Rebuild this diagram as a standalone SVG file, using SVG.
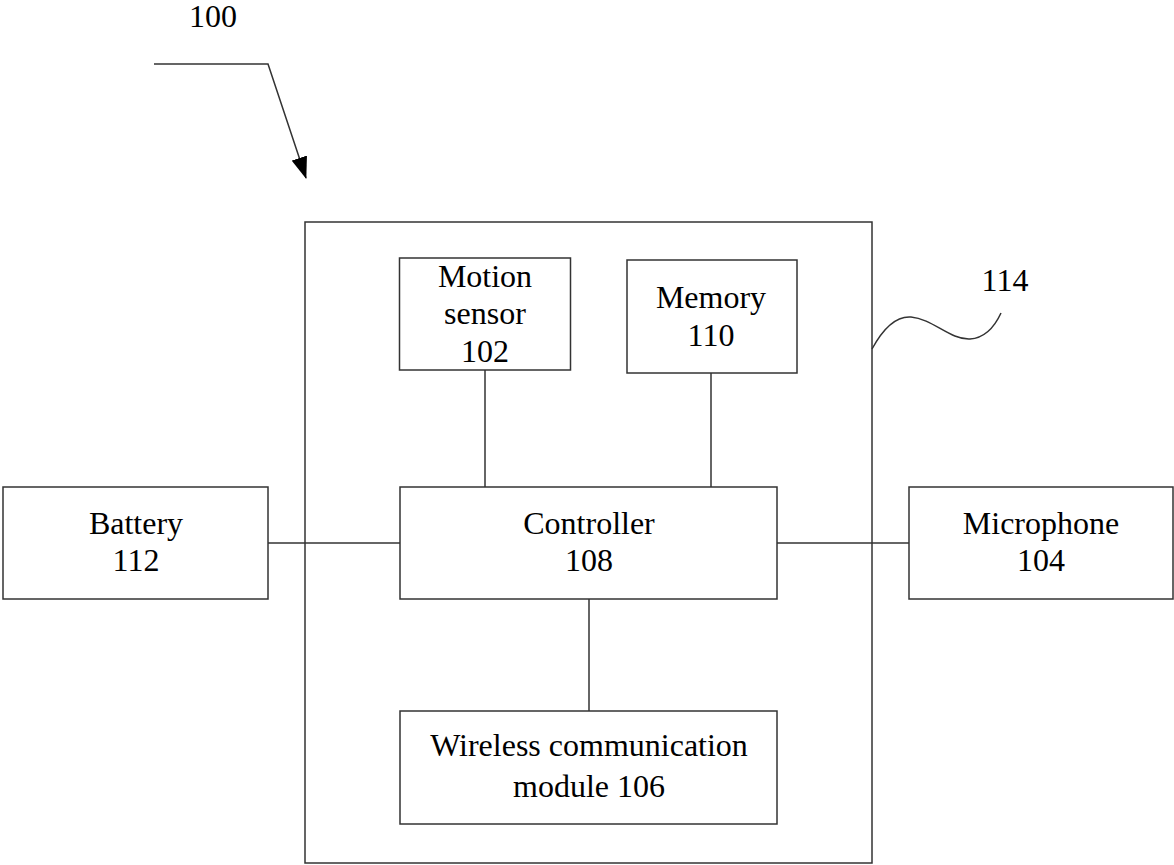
<svg xmlns="http://www.w3.org/2000/svg" width="1174" height="865" viewBox="0 0 1174 865">
<defs>
<style>
.box{fill:#fff;stroke:#333;stroke-width:1.5}
.ln{fill:none;stroke:#333;stroke-width:1.5}
text{font-family:"Liberation Serif","Times New Roman",serif;font-size:32px;fill:#000;text-anchor:middle}
</style>
<marker id="arr" markerWidth="22" markerHeight="16" refX="21" refY="8" orient="auto" markerUnits="userSpaceOnUse" viewBox="0 0 22 16">
<path d="M0,0 L22,8 L0,16 z" fill="#000"/>
</marker>
</defs>
<rect width="1174" height="865" fill="#fff"/>
<g id="label-100">
<text x="213" y="27">100</text>
<path class="ln" d="M154,64 L268,64 L306,178" stroke="#000" marker-end="url(#arr)"/>
</g>
<g id="device-114">
<rect class="box" x="305" y="222" width="567" height="641"/>
<path class="ln" d="M872,349 C885,325 898,316 911,317 C933,319 950,340 970,339 C985,338 995,326 1001,313" stroke="#000"/>
<text x="1005" y="291">114</text>
</g>
<g id="connectors">
<line class="ln" x1="485" y1="370" x2="485" y2="487"/>
<line class="ln" x1="711" y1="373" x2="711" y2="487"/>
<line class="ln" x1="268" y1="543" x2="400" y2="543"/>
<line class="ln" x1="777" y1="543" x2="909" y2="543"/>
<line class="ln" x1="589" y1="599" x2="589" y2="711"/>
</g>
<g id="motion-sensor-102">
<rect class="box" x="399.5" y="258" width="171" height="112"/>
<text x="485" y="287">Motion</text>
<text x="485" y="324">sensor</text>
<text x="485" y="362">102</text>
</g>
<g id="memory-110">
<rect class="box" x="627" y="260" width="170" height="113"/>
<text x="711" y="308">Memory</text>
<text x="711" y="346">110</text>
</g>
<g id="battery-112">
<rect class="box" x="3" y="487" width="265" height="112"/>
<text x="136" y="534">Battery</text>
<text x="136" y="571">112</text>
</g>
<g id="controller-108">
<rect class="box" x="400" y="487" width="377" height="112"/>
<text x="589" y="534">Controller</text>
<text x="589" y="571">108</text>
</g>
<g id="microphone-104">
<rect class="box" x="909" y="487" width="264" height="112"/>
<text x="1041" y="534">Microphone</text>
<text x="1041" y="571">104</text>
</g>
<g id="wireless-106">
<rect class="box" x="400" y="711" width="377" height="113"/>
<text x="589" y="756">Wireless communication</text>
<text x="589" y="797">module 106</text>
</g>
</svg>
